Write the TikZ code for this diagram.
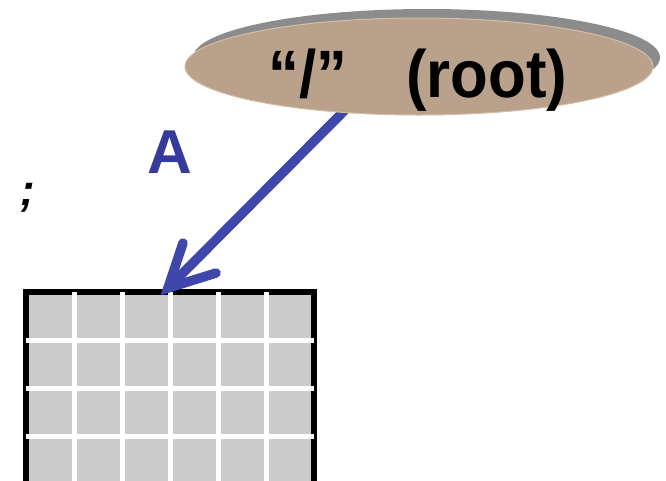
\documentclass[tikz,border=0pt]{standalone}
\usepackage{fontspec}
\setmainfont{Liberation Sans}[BoldFont={Liberation Sans Bold}]
\newfontfamily\rootfont{Liberation Sans Bold}[FakeStretch=0.92]
\newfontfamily\semifont{Liberation Sans Bold Italic}
\usetikzlibrary{shapes.geometric}
\definecolor{arrowblue}{HTML}{3F48AA}
\definecolor{labelblue}{HTML}{363A9A}
\definecolor{tan}{HTML}{B9A18C}
\definecolor{tanedge}{HTML}{D4BEA6}
\definecolor{shadowgrey}{HTML}{8C8C8C}
\definecolor{cellgrey}{HTML}{CBCBCB}
\begin{document}
\begin{tikzpicture}[x=1pt,y=-1pt,
  bigtext/.style={font=\fontsize{67}{67}\rootfont, inner sep=0pt},
  arrowline/.style={draw=arrowblue, line width=9.5pt, line cap=round},
  gridline/.style={draw=white, line width=5pt}]
\useasboundingbox (0,0) rectangle (666,480);
\clip (0,0) rectangle (666,480);
% grid
\node[draw=black, line width=6pt, fill=cellgrey, minimum width=288pt, minimum height=200pt, inner sep=0pt, outer sep=0pt, anchor=north west] (grid) at (26,292) {};
\foreach \x in {74,122,170,218,266} \draw[gridline] (\x,292) -- (\x,490);
\foreach \y in {340,388,436} \draw[gridline] (26,\y) -- (314,\y);
% arrow
\coordinate (tip) at (168,288);
\coordinate (start) at (345,110);
\draw[arrowline] (start) -- (tip);
\draw[arrowline] (183,243) -- (tip) -- (216,273);
% root ellipse with shadow
\fill[shadowgrey] (426.5,57.5) ellipse [x radius=233.5, y radius=48.5];
\node[ellipse, fill=tan, draw=tanedge, line width=1pt, minimum width=468pt, minimum height=97pt, inner sep=0pt] (root) at (419,66.5) {};
\node[bigtext, anchor=base west] (slash) at (268,97) {“/”};
\node[bigtext, anchor=base west] (rootlabel) at (406,97) {(root)};
% labels
\node[font=\fontsize{62}{62}\selectfont\bfseries, text=labelblue, inner sep=0pt, anchor=base] (A) at (170,173) {A};
\node[font=\fontsize{44}{44}\semifont, inner sep=0pt, anchor=base west] (semi) at (20,205) {;};
\end{tikzpicture}
\end{document}
